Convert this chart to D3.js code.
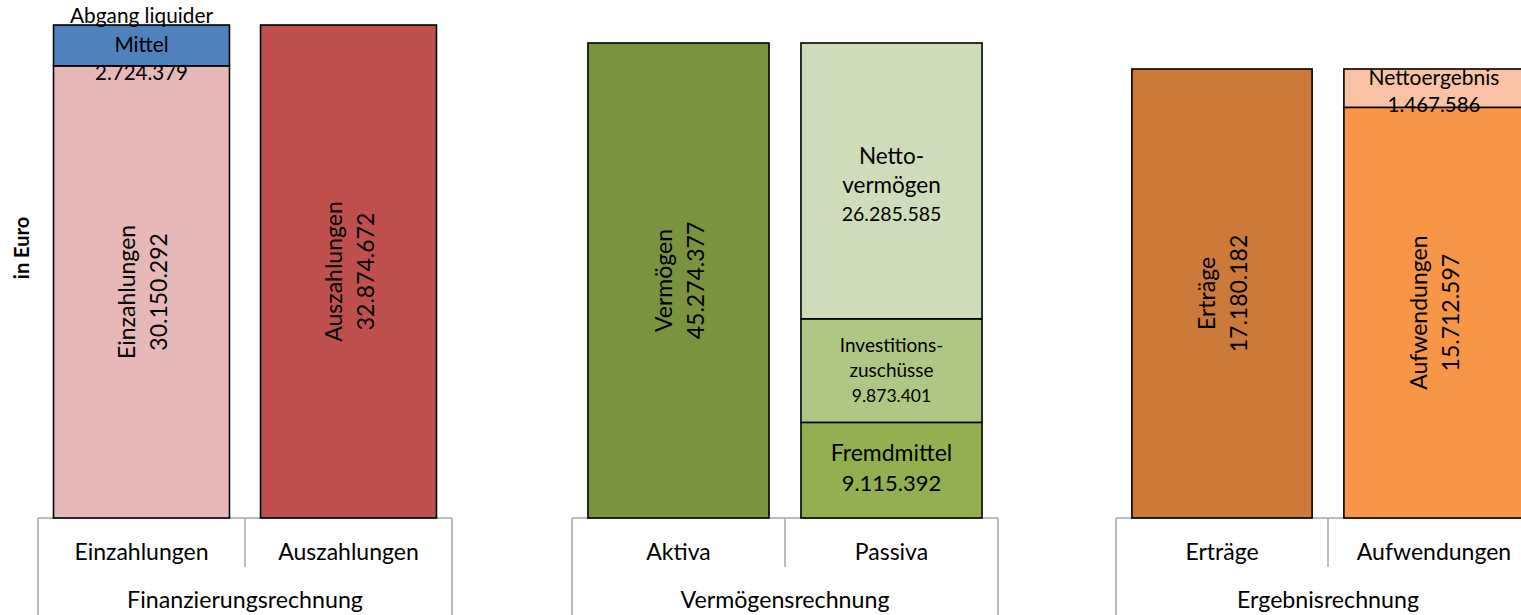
<!DOCTYPE html>
<html>
<head>
<meta charset="utf-8">
<script src="https://cdn.jsdelivr.net/npm/d3@7"></script>
<style>
  body { margin: 0; background: #fff; }
  svg { display: block; font-family: Lato, "Noto Sans", sans-serif; }
</style>
</head>
<body>
<div id="chart"></div>
<script>
// three panels, each with its own (hidden) value axis
var groupNames = ["Finanzierungsrechnung", "Vermögensrechnung", "Ergebnisrechnung"];
var barNames = [["Einzahlungen", "Auszahlungen"], ["Aktiva", "Passiva"], ["Erträge", "Aufwendungen"]];
var axisMax = [34542000, 49373000, 19820000];

// stacked segments, bottom to top within each bar
var segBar = ["Einzahlungen", "Einzahlungen", "Auszahlungen", "Aktiva", "Passiva", "Passiva", "Passiva", "Erträge", "Aufwendungen", "Aufwendungen"];
var segNames = ["Einzahlungen", "Abgang liquider Mittel", "Auszahlungen", "Vermögen", "Fremdmittel", "Investitionszuschüsse", "Nettovermögen", "Erträge", "Aufwendungen", "Nettoergebnis"];
var segValues = [30150292, 2724379, 32874672, 45274377, 9115392, 9873401, 26285585, 17180182, 15712597, 1467586];
var segLabelLines = [["Einzahlungen"], ["Abgang liquider", "Mittel"], ["Auszahlungen"], ["Vermögen"], ["Fremdmittel"],
                     ["Investitions-", "zuschüsse"], ["Netto-", "vermögen"], ["Erträge"], ["Aufwendungen"], ["Nettoergebnis"]];

var segColors = ["#e6b9b8", "#4f81bd", "#c0504d", "#79933f", "#92b050", "#afc784", "#cfdcb9", "#cc7a3a", "#f79646", "#f9c2a5"];
// label styling: rotated?, font size, value font size, line height, shift
var segStyle = [
    {rot: true,  size: 23, vsize: 23, lh: 32, dy: 0},
    {rot: false, size: 20.8, vsize: 20.5, lh: 29, dy: -2},
    {rot: true,  size: 23, vsize: 23, lh: 32, dy: 0},
    {rot: true,  size: 23, vsize: 23, lh: 32, dy: 0},
    {rot: false, size: 23, vsize: 22, lh: 30, dy: -3},
    {rot: false, size: 19, vsize: 17.5, lh: 25.5, dy: -1},
    {rot: false, size: 22.5, vsize: 19.5, lh: 29, dy: 4},
    {rot: true,  size: 23, vsize: 23, lh: 32, dy: 0},
    {rot: true,  size: 23, vsize: 23, lh: 32, dy: 0},
    {rot: false, size: 21, vsize: 20.5, lh: 27, dy: 2}
];

var width = 1521, height = 615;
var baseY = 518, topY = 0;
var groupLeft = [38, 572, 1116],
    groupWidth = [414, 426, 424];
var axisColor = "#a6a6a6";

var fmt = d3.formatLocale({decimal: ",", thousands: ".", grouping: [3], currency: ["", "€"]}).format(",d");

var svg = d3.select("#chart").append("svg")
    .attr("width", width)
    .attr("height", height);

//scales per panel
var xs = groupNames.map(function(g, i) {
    return d3.scaleBand()
        .domain(barNames[i])
        .range([groupLeft[i], groupLeft[i] + groupWidth[i]])
        .paddingInner(0.15)
        .paddingOuter(0.075);
});
var ys = axisMax.map(function(m) {
    return d3.scaleLinear().domain([0, m]).range([baseY, topY]);
});

var groupOf = function(bar) {
    for (var i = 0; i < barNames.length; i++)
        if (barNames[i].indexOf(bar) >= 0) return i;
    return -1;
};

//build stacks
var segs = segNames.map(function(n, i) {
    return {name: n, bar: segBar[i], value: segValues[i], color: segColors[i],
            lines: segLabelLines[i], style: segStyle[i], g: groupOf(segBar[i])};
});
d3.group(segs, function(d) { return d.bar; }).forEach(function(arr) {
    var acc = 0;
    arr.forEach(function(d) { d.y0 = acc; acc += d.value; d.y1 = acc; });
});

//category axis boxes (drawn first so bar borders sit on top)
var axes = svg.append("g");
groupNames.forEach(function(name, i) {
    var x = xs[i], r = x.range();
    var g = axes.append("g")
        .attr("stroke", axisColor)
        .attr("stroke-width", 1.5)
        .attr("fill", "none");
    g.append("line").attr("x1", r[0]).attr("x2", r[1]).attr("y1", baseY).attr("y2", baseY);
    g.append("line").attr("x1", r[0]).attr("x2", r[0]).attr("y1", baseY).attr("y2", height);
    g.append("line").attr("x1", r[1]).attr("x2", r[1]).attr("y1", baseY).attr("y2", height);
    var mid = r[0] + (r[1] - r[0]) / 2;
    g.append("line").attr("x1", mid).attr("x2", mid).attr("y1", baseY).attr("y2", 567);

    barNames[i].forEach(function(b) {
        axes.append("text")
            .attr("x", x(b) + x.bandwidth() / 2)
            .attr("y", 551)
            .attr("text-anchor", "middle")
            .attr("dominant-baseline", "central")
            .attr("font-size", 23)
            .text(b);
    });
    axes.append("text")
        .attr("x", (r[0] + r[1]) / 2)
        .attr("y", 599)
        .attr("text-anchor", "middle")
        .attr("dominant-baseline", "central")
        .attr("font-size", 23.2)
        .text(name);
});

//bars
svg.append("g").selectAll("rect")
    .data(segs)
    .enter().append("rect")
    .attr("x", function(d) { return xs[d.g](d.bar); })
    .attr("width", function(d) { return xs[d.g].bandwidth(); })
    .attr("y", function(d) { return ys[d.g](d.y1); })
    .attr("height", function(d) { return ys[d.g](d.y0) - ys[d.g](d.y1); })
    .attr("fill", function(d) { return d.color; })
    .attr("stroke", "#000")
    .attr("stroke-width", 1.6);

//labels
var lab = svg.append("g").selectAll("g")
    .data(segs)
    .enter().append("g")
    .attr("transform", function(d) {
        var cx = xs[d.g](d.bar) + xs[d.g].bandwidth() / 2,
            cy = (ys[d.g](d.y0) + ys[d.g](d.y1)) / 2 + d.style.dy;
        return "translate(" + cx + "," + cy + ")" + (d.style.rot ? "rotate(-90)" : "");
    });

lab.each(function(d) {
    var lines = d.lines.concat([fmt(d.value)]);
    var n = lines.length;
    var t = d3.select(this).append("text")
        .attr("text-anchor", "middle")
        .attr("fill", "#000");
    lines.forEach(function(l, k) {
        t.append("tspan")
            .attr("x", 0)
            .attr("y", (k - (n - 1) / 2) * d.style.lh)
            .attr("dominant-baseline", "central")
            .attr("font-size", k == n - 1 ? d.style.vsize : d.style.size)
            .text(l);
    });
});

//value axis title
svg.append("text")
    .attr("transform", "translate(21,248)rotate(-90)")
    .attr("text-anchor", "middle")
    .attr("dominant-baseline", "central")
    .attr("font-size", 20)
    .attr("font-weight", "bold")
    .text("in Euro");
</script>
</body>
</html>
